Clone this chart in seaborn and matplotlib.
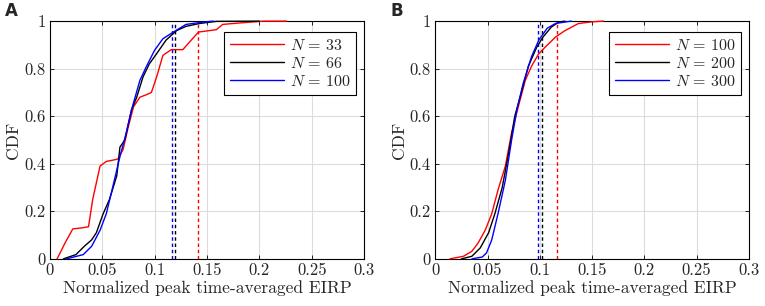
import numpy as np
import pandas as pd
import matplotlib
matplotlib.use('Agg')
from matplotlib import pyplot as plt
import seaborn as sns

# CDF levels and the EIRP values (panel A)
a_red_x = [0.007, 0.015, 0.022, 0.030, 0.037, 0.041, 0.048, 0.054, 0.060, 0.065, 0.070, 0.075, 0.080, 0.086,
           0.092, 0.097, 0.102, 0.108, 0.116, 0.127, 0.135, 0.142, 0.159, 0.165, 0.175, 0.204, 0.226]
a_red_y = [0.0, 0.07, 0.126, 0.13, 0.135, 0.25, 0.39, 0.41, 0.415, 0.42, 0.46, 0.556, 0.64, 0.68,
           0.69, 0.70, 0.765, 0.856, 0.88, 0.88, 0.92, 0.954, 0.964, 0.986, 0.99, 1.0, 1.0]
a_blk_x = [0.013, 0.025, 0.033, 0.040, 0.0445, 0.051, 0.057, 0.064, 0.067, 0.0716, 0.078, 0.083, 0.089,
           0.095, 0.102, 0.111, 0.121, 0.130, 0.143, 0.159, 0.200]
a_blk_y = [0.0, 0.018, 0.053, 0.08, 0.11, 0.19, 0.25, 0.35, 0.47, 0.50, 0.626, 0.68, 0.765,
           0.82, 0.863, 0.92, 0.96, 0.978, 0.99, 0.999, 1.0]
a_blu_x = [0.016, 0.032, 0.040, 0.048, 0.054, 0.060, 0.067, 0.073, 0.078, 0.086, 0.092, 0.100, 0.108,
           0.118, 0.130, 0.143, 0.156]
a_blu_y = [0.0, 0.018, 0.053, 0.12, 0.19, 0.30, 0.43, 0.53, 0.626, 0.75, 0.807, 0.877, 0.926,
           0.954, 0.986, 0.994, 1.0]
a_labels = [33, 66, 100]
a_means = [0.141, 0.120, 0.117]

# panel B
b_red_x = [0.014, 0.027, 0.035, 0.041, 0.048, 0.054, 0.060, 0.067, 0.073, 0.080, 0.086, 0.092, 0.099,
           0.105, 0.115, 0.124, 0.137, 0.150, 0.161]
b_red_y = [0.0, 0.011, 0.032, 0.067, 0.123, 0.19, 0.29, 0.39, 0.53, 0.65, 0.75, 0.81, 0.863,
           0.89, 0.933, 0.96, 0.99, 0.997, 1.0]
b_blk_x = [0.025, 0.035, 0.043, 0.051, 0.057, 0.064, 0.070, 0.076, 0.083, 0.089, 0.097, 0.103, 0.111,
           0.118, 0.124]
b_blk_y = [0.0, 0.011, 0.046, 0.11, 0.19, 0.30, 0.44, 0.60, 0.71, 0.81, 0.89, 0.933, 0.975,
           0.996, 1.0]
b_blu_x = [0.035, 0.045, 0.049, 0.054, 0.060, 0.067, 0.073, 0.078, 0.084, 0.092, 0.099, 0.107, 0.115, 0.130]
b_blu_y = [0.0, 0.008, 0.025, 0.08, 0.19, 0.33, 0.50, 0.626, 0.737, 0.85, 0.92, 0.97, 0.99, 1.0]
b_labels = [100, 200, 300]
b_means = [0.1165, 0.102, 0.098]

colors = ['#ff0000', '#000000', '#0000ff']
xticks = [0, 0.05, 0.1, 0.15, 0.2, 0.25, 0.3]
xticklabels = ['0', '0.05', '0.1', '0.15', '0.2', '0.25', '0.3']
yticks = [0, 0.2, 0.4, 0.6, 0.8, 1]
yticklabels = ['0', '0.2', '0.4', '0.6', '0.8', '1']

sns.set_style('whitegrid')
plt.rcParams['font.family'] = ['cmr10', 'DejaVu Serif']
plt.rcParams['mathtext.fontset'] = 'cm'
plt.rcParams['axes.unicode_minus'] = False

fig = plt.figure(figsize=(7.65, 3.06), dpi=100)
ax_a = fig.add_axes([0.065, 0.154, 0.411, 0.777])
ax_b = fig.add_axes([0.569, 0.154, 0.410, 0.777])

panels = [
    (ax_a, 'A', [(a_red_x, a_red_y), (a_blk_x, a_blk_y), (a_blu_x, a_blu_y)], a_labels, a_means),
    (ax_b, 'B', [(b_red_x, b_red_y), (b_blk_x, b_blk_y), (b_blu_x, b_blu_y)], b_labels, b_means),
]

for ax, tag, curves, labels, means in panels:
    for (xs, ys), n, c in zip(curves, labels, colors):
        sns.lineplot(x=xs, y=ys, ax=ax, color=c, lw=1.0, sort=False, estimator=None,
                     label=rf'$N\,=\,{n}$', clip_on=False, zorder=3)
    for m, c in zip(means, colors):
        ax.axvline(m, color=c, lw=1.0, ls=(0, (2.5, 2)))
    ax.set_xlim(0, 0.3)
    ax.set_ylim(0, 1)
    ax.set_xticks(xticks)
    ax.set_xticklabels(xticklabels)
    ax.set_yticks(yticks)
    ax.set_yticklabels(yticklabels)
    ax.tick_params(direction='in', length=3, width=0.6, labelsize=12, top=True, right=True,
                   bottom=True, left=True, pad=3, color='black')
    ax.grid(True, color='#dcdcdc', lw=0.8)
    for s in ax.spines.values():
        s.set_color('black')
        s.set_linewidth(0.8)
    ax.set_xlabel('Normalized peak time-averaged EIRP', fontsize=12.5, labelpad=1)
    ax.set_ylabel('CDF', fontsize=12.5, labelpad=2)
    leg = ax.legend(loc='upper right', bbox_to_anchor=(0.975, 0.954), borderaxespad=0, fontsize=11.5,
                    fancybox=False, framealpha=1, edgecolor='black', handlelength=3.4, borderpad=0.35,
                    labelspacing=0.2, handletextpad=0.35)
    leg.get_frame().set_linewidth(0.8)
    leg.set_zorder(5)
    fig.text(ax.get_position().x0 - 0.058, 0.965, tag, fontsize=12, fontweight='bold',
             family='DejaVu Sans', va='center')

plt.savefig('out.png', dpi=100)
